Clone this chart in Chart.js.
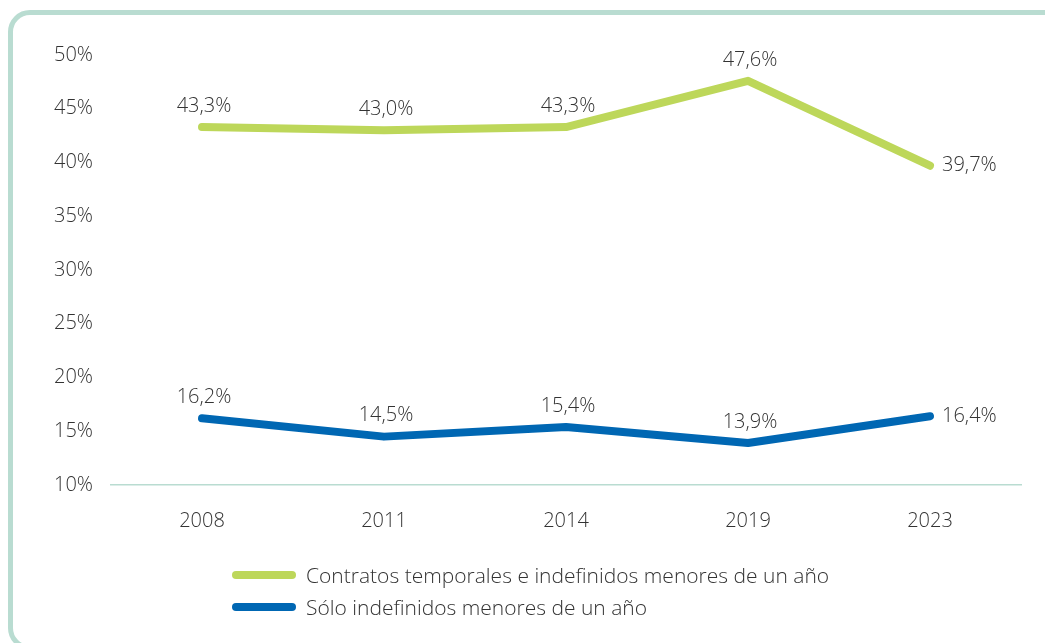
<!DOCTYPE html>
<html>
<head>
<meta charset="utf-8">
<script src="https://cdn.jsdelivr.net/npm/chart.js@4"></script>
<style>
  body { margin: 0; background: #fff; font-family: "Open Sans", "Noto Sans", sans-serif; }
  #wrap { position: relative; width: 1045px; height: 643px; overflow: hidden; }
  #frame {
    position: absolute; left: 8px; top: 10px; width: 1060px; height: 640px;
    border: 5px solid #b9dcd1; border-radius: 22px; box-sizing: border-box;
  }
  #chart { position: absolute; left: 0; top: 0; }
  #legend { position: absolute; left: 232px; top: 559px; }
  .item { display: flex; align-items: center; height: 32px; font-size: 21px; font-weight: 300; color: #333; }
  .swatch { width: 64px; height: 8px; border-radius: 4px; margin-right: 10px; }
</style>
</head>
<body>
<div id="wrap">
  <div id="frame"></div>
  <canvas id="chart" width="1045" height="643"></canvas>
  <div id="legend"></div>
</div>
<script>
// Years on the x axis
const years = ['2008', '2011', '2014', '2019', '2023'];

// Share of contracts (%)
const temporalesIndefinidos = [43.3, 43.0, 43.3, 47.6, 39.7];
const soloIndefinidos = [16.2, 14.5, 15.4, 13.9, 16.4];

// Series names
const seriesNames = [
  'Contratos temporales e indefinidos menores de un año',
  'Sólo indefinidos menores de un año',
];

// Y axis ticks
const yTicks = [10, 15, 20, 25, 30, 35, 40, 45, 50];

const green = '#bdd75a';
const blue = '#0067b3';
const textColor = '#333333';
const fontFamily = '"Open Sans", "Noto Sans", sans-serif';

function fmt(v, digits) {
  return v.toFixed(digits).replace('.', ',') + '%';
}

// Draw value labels: above the point, to the right for the last year
const valueLabels = {
  id: 'valueLabels',
  afterDatasetsDraw(chart) {
    const ctx = chart.ctx;
    ctx.save();
    ctx.font = '300 20px ' + fontFamily;
    ctx.fillStyle = textColor;
    ctx.textBaseline = 'middle';
    chart.data.datasets.forEach((ds, i) => {
      const meta = chart.getDatasetMeta(i);
      meta.data.forEach((pt, j) => {
        const label = fmt(ds.data[j], 1);
        if (j === ds.data.length - 1) {
          ctx.textAlign = 'left';
          ctx.fillText(label, pt.x + 12, pt.y);
        } else {
          ctx.textAlign = 'center';
          ctx.fillText(label, pt.x + 2, pt.y - 21);
        }
      });
    });
    ctx.restore();
  }
};

const ctx = document.getElementById('chart').getContext('2d');
const chart = new Chart(ctx, {
  type: 'line',
  data: {
    labels: years,
    datasets: [
      {
        label: seriesNames[0],
        data: temporalesIndefinidos,
        borderColor: green,
        backgroundColor: green,
        borderWidth: 8,
        borderCapStyle: 'round',
        borderJoinStyle: 'round',
        pointRadius: 0,
        tension: 0,
      },
      {
        label: seriesNames[1],
        data: soloIndefinidos,
        borderColor: blue,
        backgroundColor: blue,
        borderWidth: 8,
        borderCapStyle: 'round',
        borderJoinStyle: 'round',
        pointRadius: 0,
        tension: 0,
      },
    ],
  },
  options: {
    responsive: false,
    animation: false,
    layout: { padding: { top: 55, right: 24, bottom: 88, left: 0 } },
    plugins: {
      legend: { display: false },
      tooltip: { enabled: false },
    },
    scales: {
      x: {
        offset: true,
        grid: { display: false, drawTicks: false },
        border: { display: true, color: '#b9dcd1', width: 1.5 },
        ticks: {
          color: textColor,
          padding: 24,
          font: { family: fontFamily, size: 20, weight: 300 },
        },
        afterFit(scale) { scale.height = 70; },
      },
      y: {
        min: 10,
        max: 50,
        afterBuildTicks(scale) { scale.ticks = yTicks.map(v => ({ value: v })); },
        grid: { display: false, drawTicks: false },
        border: { display: false },
        ticks: {
          color: textColor,
          padding: 18,
          font: { family: fontFamily, size: 20, weight: 300 },
          callback: v => v + '%',
        },
        afterFit(scale) { scale.width = 111; },
      },
    },
  },
  plugins: [valueLabels],
});

// HTML legend, left aligned like the reference
const legendEl = document.getElementById('legend');
chart.data.datasets.forEach(ds => {
  const item = document.createElement('div');
  item.className = 'item';
  const sw = document.createElement('span');
  sw.className = 'swatch';
  sw.style.background = ds.borderColor;
  const txt = document.createElement('span');
  txt.textContent = ds.label;
  item.appendChild(sw);
  item.appendChild(txt);
  legendEl.appendChild(item);
});
</script>
</body>
</html>
